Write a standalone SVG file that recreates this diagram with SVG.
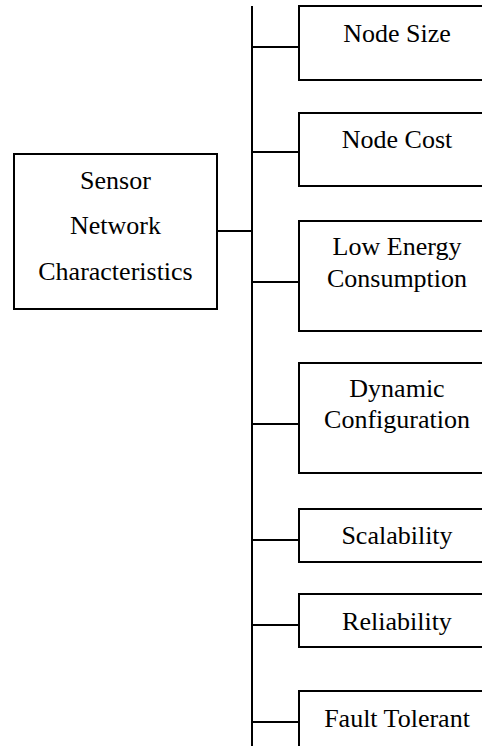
<svg xmlns="http://www.w3.org/2000/svg" width="482" height="746" viewBox="0 0 482 746">
<style>
.box{fill:#fff;stroke:#000;stroke-width:2}
.ln{stroke:#000;stroke-width:2;fill:none}
text{font-family:"Liberation Serif","Times New Roman",serif;font-size:26px;fill:#000;text-anchor:middle}
</style>
<rect width="482" height="746" fill="#fff"/>
<g id="connectors">
<line class="ln" x1="252" y1="6" x2="252" y2="746"/>
<line class="ln" x1="217" y1="231" x2="252" y2="231"/>
<line class="ln" x1="252" y1="47" x2="299" y2="47"/>
<line class="ln" x1="252" y1="152" x2="299" y2="152"/>
<line class="ln" x1="252" y1="282" x2="299" y2="282"/>
<line class="ln" x1="252" y1="424" x2="299" y2="424"/>
<line class="ln" x1="252" y1="540" x2="299" y2="540"/>
<line class="ln" x1="252" y1="625" x2="299" y2="625"/>
<line class="ln" x1="252" y1="722" x2="299" y2="722"/>
</g>
<g id="sensor">
<rect class="box" x="14" y="154" width="203" height="155"/>
<text x="115.5" y="189">Sensor</text>
<text x="115.5" y="234">Network</text>
<text x="115.5" y="280">Characteristics</text>
</g>
<g id="node-size">
<rect class="box" x="299" y="6" width="200" height="74"/>
<text x="397" y="42">Node Size</text>
</g>
<g id="node-cost">
<rect class="box" x="299" y="113" width="200" height="73"/>
<text x="397" y="148">Node Cost</text>
</g>
<g id="low-energy">
<rect class="box" x="299" y="221" width="200" height="110"/>
<text x="397" y="255">Low Energy</text>
<text x="397" y="287">Consumption</text>
</g>
<g id="dynamic">
<rect class="box" x="299" y="363" width="200" height="110"/>
<text x="397" y="397">Dynamic</text>
<text x="397" y="428">Configuration</text>
</g>
<g id="scalability">
<rect class="box" x="299" y="509" width="200" height="53"/>
<text x="397" y="544">Scalability</text>
</g>
<g id="reliability">
<rect class="box" x="299" y="594" width="200" height="53"/>
<text x="397" y="630">Reliability</text>
</g>
<g id="fault-tolerant">
<rect class="box" x="299" y="691" width="200" height="70"/>
<text x="397" y="727">Fault Tolerant</text>
</g>
</svg>
